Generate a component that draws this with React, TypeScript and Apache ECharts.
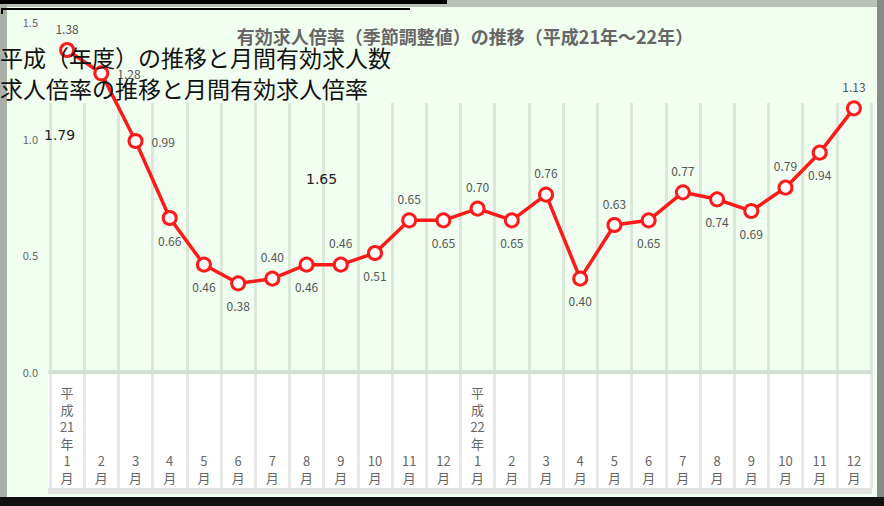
import React, { useEffect, useRef } from "react";
import * as echarts from "echarts";

const categories = [
  "平成21年1月", "2月", "3月", "4月", "5月", "6月", "7月", "8月", "9月", "10月", "11月", "12月",
  "平成22年1月", "2月", "3月", "4月", "5月", "6月", "7月", "8月", "9月", "10月", "11月", "12月",
];
const ratioValues = [
  1.38, 1.28, 0.99, 0.66, 0.46, 0.38, 0.4, 0.46, 0.46, 0.51, 0.65, 0.65,
  0.7, 0.65, 0.76, 0.4, 0.63, 0.65, 0.77, 0.74, 0.69, 0.79, 0.94, 1.13,
];
const labelPlacement = [
  "top", "right", "right", "bottom", "bottom", "bottom", "top", "bottom", "top", "bottom", "top", "bottom",
  "top", "bottom", "top", "bottom", "top", "bottom", "top", "bottom", "bottom", "top", "bottom", "top",
];
const yMin = 0;
const yMax = 1.5;
const yStep = 0.5;
const titleText = "有効求人倍率（季節調整値）の推移（平成21年～22年）";
const overlayLineA = "平成（年度）の推移と月間有効求人数";
const overlayLineB = "求人倍率の推移と月間有効求人倍率";
const overlayNotes = ["1.79", "1.65"];

const vertical = (s: string) => (s.match(/\d+|./g) || []).join("\n");

export default function App() {
  const ref = useRef<HTMLDivElement>(null);
  useEffect(() => {
    document.body.style.margin = "0";
    if (!ref.current) return;
    const chart = echarts.init(ref.current, null, { renderer: "svg" });
    const font = "'Noto Sans CJK JP', 'Noto Sans', sans-serif";
    chart.setOption({
      animation: false,
      backgroundColor: "#f0fff0",
      textStyle: { fontFamily: font },
      grid: [
        { left: 50, right: 13, top: 22, bottom: 134 },
        { left: 50, right: 13, top: 103, bottom: 18 },
      ],
      xAxis: [
        {
          type: "category",
          gridIndex: 0,
          data: categories,
          boundaryGap: true,
          axisLine: { lineStyle: { color: "#d3e0d3", width: 4 } },
          axisTick: { show: false },
          splitLine: { show: false },
          axisLabel: {
            interval: 0,
            formatter: vertical,
            verticalAlign: "bottom",
            margin: 114,
            lineHeight: 17,
            fontSize: 13,
            color: "#666",
          },
        },
        {
          type: "category",
          gridIndex: 1,
          data: categories,
          boundaryGap: true,
          axisLine: { show: false },
          axisTick: { show: false },
          axisLabel: { show: false },
          splitLine: { show: true, interval: 0, lineStyle: { color: "rgba(0,0,0,0.09)", width: 3 } },
        },
      ],
      yAxis: [
        {
          type: "value",
          gridIndex: 0,
          min: yMin,
          max: yMax,
          interval: yStep,
          axisLine: { show: false },
          axisTick: { show: false },
          splitLine: { show: false },
          axisLabel: { color: "#666", fontSize: 11, margin: 12, formatter: (v: number) => v.toFixed(1) },
        },
        { type: "value", gridIndex: 1, show: false, splitLine: { show: false } },
      ],
      graphic: {
        elements: [
          { type: "rect", z: -1, shape: { x: 48, y: 375, width: 824, height: 113 }, style: { fill: "#ffffff" } },
          { type: "rect", z: -1, shape: { x: 48, y: 488, width: 824, height: 6 }, style: { fill: "#e2e2e2" } },
          { type: "rect", z: 50, shape: { x: 0, y: 0, width: 884, height: 7 }, style: { fill: "#b8c0b8" } },
          { type: "rect", z: 50, shape: { x: 0, y: 0, width: 7, height: 506 }, style: { fill: "#a9b1a9" } },
          { type: "rect", z: 50, shape: { x: 877, y: 0, width: 7, height: 506 }, style: { fill: "#8a8a8a" } },
          { type: "rect", z: 50, shape: { x: 0, y: 497, width: 884, height: 9 }, style: { fill: "#111" } },
          { type: "rect", z: 51, shape: { x: 0, y: 0, width: 447, height: 4 }, style: { fill: "#000" } },
          { type: "rect", z: 51, shape: { x: 2, y: 8, width: 408, height: 2 }, style: { fill: "#000" } },
          { type: "rect", z: 51, shape: { x: 1, y: 8, width: 2, height: 6 }, style: { fill: "#000" } },
          {
            type: "text",
            z: 40,
            x: 465,
            y: 36,
            style: {
              text: titleText,
              fontSize: 18,
              fontWeight: "bold",
              fill: "#666",
              fontFamily: font,
              textAlign: "center",
              textVerticalAlign: "middle",
            },
          },
          {
            type: "text",
            z: 60,
            x: 0,
            y: 45,
            style: { text: overlayLineA, fontSize: 23, fill: "#111", fontFamily: font },
          },
          {
            type: "text",
            z: 60,
            x: 0,
            y: 76,
            style: { text: overlayLineB, fontSize: 23, fill: "#111", fontFamily: font },
          },
          { type: "text", z: 60, x: 44, y: 128, style: { text: overlayNotes[0], fontSize: 14, fill: "#222", fontFamily: "'DejaVu Sans', sans-serif" } },
          { type: "text", z: 60, x: 306, y: 172, style: { text: overlayNotes[1], fontSize: 14, fill: "#222", fontFamily: "'DejaVu Sans', sans-serif" } },
        ],
      },
      series: [
        {
          type: "line",
          xAxisIndex: 0,
          yAxisIndex: 0,
          clip: false,
          z: 5,
          data: ratioValues.map((v, i) => ({ value: v, label: { position: labelPlacement[i] } })),
          symbol: "circle",
          symbolSize: 13,
          lineStyle: { color: "#ff1a1a", width: 3.5 },
          itemStyle: { color: "#ffffff", borderColor: "#ff1a1a", borderWidth: 3 },
          label: {
            show: true,
            distance: 8,
            fontSize: 12,
            color: "#555",
            formatter: (p: any) => Number(p.value).toFixed(2),
          },
        },
      ],
    });
    return () => chart.dispose();
  }, []);
  return <div ref={ref} style={{ width: 884, height: 506 }} />;
}
